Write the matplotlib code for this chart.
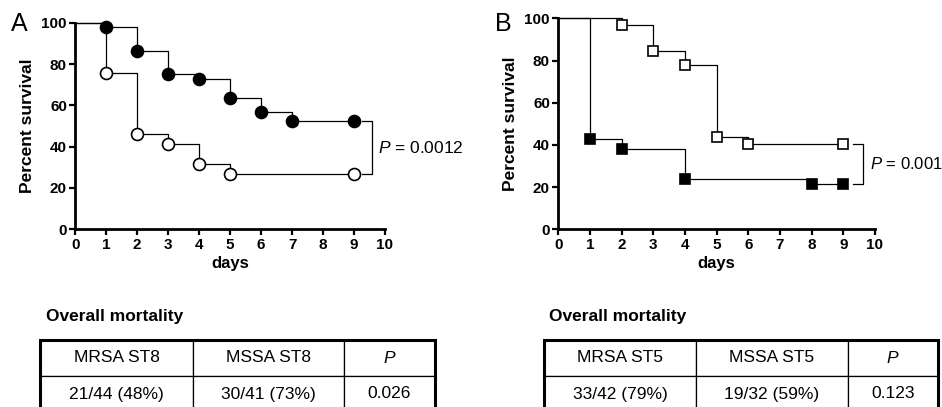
import matplotlib
matplotlib.use('Agg')
import matplotlib.pyplot as plt
from matplotlib.patches import Rectangle

plt.rcParams['font.family'] = ['Liberation Sans', 'DejaVu Sans']
plt.rcParams['mathtext.fontset'] = 'custom'
plt.rcParams['mathtext.it'] = 'Liberation Sans:italic'
plt.rcParams['mathtext.rm'] = 'Liberation Sans'

# panel A: ST8 (filled = MRSA, open = MSSA)
a_days_mrsa = [0, 1, 2, 3, 4, 5, 6, 7, 9]
a_surv_mrsa = [100, 97.7, 86.4, 75.0, 72.7, 63.6, 56.8, 52.3, 52.3]
a_days_mssa = [0, 1, 2, 3, 4, 5, 9]
a_surv_mssa = [100, 75.6, 46.3, 41.5, 31.7, 26.8, 26.8]
a_pval = '$P$ = 0.0012'

# panel B: ST5 (filled = MRSA, open = MSSA)
b_days_mrsa = [0, 1, 2, 4, 8, 9]
b_surv_mrsa = [100, 42.9, 38.1, 23.8, 21.4, 21.4]
b_days_mssa = [0, 2, 3, 4, 5, 6, 9]
b_surv_mssa = [100, 96.9, 84.4, 78.1, 43.8, 40.6, 40.6]
b_pval = '$P$ = 0.001'

a_table = [['MRSA ST8', 'MSSA ST8', '$P$'],
           ['21/44 (48%)', '30/41 (73%)', '0.026']]
b_table = [['MRSA ST5', 'MSSA ST5', '$P$'],
           ['33/42 (79%)', '19/32 (59%)', '0.123']]

W, H = 942, 407
fig = plt.figure(figsize=(W / 100, H / 100), dpi=100)


def km_panel(rect, letter, letter_xy, curves, marker, pval, bx, pfs):
    ax = fig.add_axes(rect)
    for days, surv, fill in curves:
        ax.plot(days, surv, drawstyle='steps-post', color='black', lw=0.9,
                clip_on=False, zorder=2)
        ax.plot(days[1:], surv[1:], ls='none', marker=marker,
                ms=8.6 if marker == 'o' else 7.8, mfc=fill, mec='black',
                mew=1.2, clip_on=False, zorder=3)
    hi = curves[0][1][-1]
    lo = curves[1][1][-1]
    ax.plot([bx[0], bx[1], bx[1], bx[0]], [hi, hi, lo, lo], color='black',
            lw=0.9, clip_on=False)
    ax.text(bx[1] + 0.2, (hi + lo) / 2, pval, fontsize=pfs, va='center',
            ha='left', clip_on=False)
    ax.set_xlim(0, 10)
    ax.set_ylim(0, 100)
    ax.set_xticks(range(0, 11))
    ax.set_yticks(range(0, 101, 20))
    for s in ['top', 'right']:
        ax.spines[s].set_visible(False)
    for s in ['left', 'bottom']:
        ax.spines[s].set_linewidth(2.0)
    ax.tick_params(direction='out', length=4, width=1.6, labelsize=11, pad=2)
    for lab in ax.get_xticklabels() + ax.get_yticklabels():
        lab.set_fontweight('bold')
    ax.set_xlabel('days', fontsize=12, fontweight='bold', labelpad=3)
    ax.set_ylabel('Percent survival', fontsize=12.5, fontweight='bold', labelpad=5)
    fig.text(letter_xy[0] / W, 1 - letter_xy[1] / H, letter, fontsize=18,
             ha='left', va='baseline')
    return ax


km_panel([75.3 / W, 1 - 229.3 / H, 309.7 / W, 206.6 / H], 'A', (11, 31),
         [(a_days_mrsa, a_surv_mrsa, 'black'), (a_days_mssa, a_surv_mssa, 'white')],
         'o', a_pval, (9.25, 9.57), 12.5)
km_panel([558.3 / W, 1 - 229.3 / H, 316.7 / W, 211.0 / H], 'B', (495, 31),
         [(b_days_mssa, b_surv_mssa, 'white'), (b_days_mrsa, b_surv_mrsa, 'black')],
         's', b_pval, (9.32, 9.63), 12)


def mortality_table(x0, x1, cols, title_x, cells):
    fig.text(title_x / W, 1 - 316.7 / H, 'Overall mortality', fontsize=12.5,
             fontweight='bold', ha='left', va='center')
    ax = fig.add_axes([x0 / W, 1 - 412 / H, (x1 - x0) / W, 72 / H])
    ax.axis('off')
    tot = x1 - x0
    widths = [(cols[0] - x0) / tot, (cols[1] - cols[0]) / tot, (x1 - cols[1]) / tot]
    tb = ax.table(cellText=cells, colWidths=widths, bbox=[0, 0, 1, 1],
                  cellLoc='center')
    tb.auto_set_font_size(False)
    for (r, c), cell in tb.get_celld().items():
        cell.set_linewidth(0.9)
        cell.get_text().set_fontsize(12.5)
    ax.add_patch(Rectangle((0, 0), 1, 1, transform=ax.transAxes, fill=False,
                           lw=2.2, ec='black', clip_on=False))


mortality_table(40.3, 435, (192.7, 344), 46, a_table)
mortality_table(544, 938, (696, 847.7), 549, b_table)

fig.savefig('out.png', dpi=100)
